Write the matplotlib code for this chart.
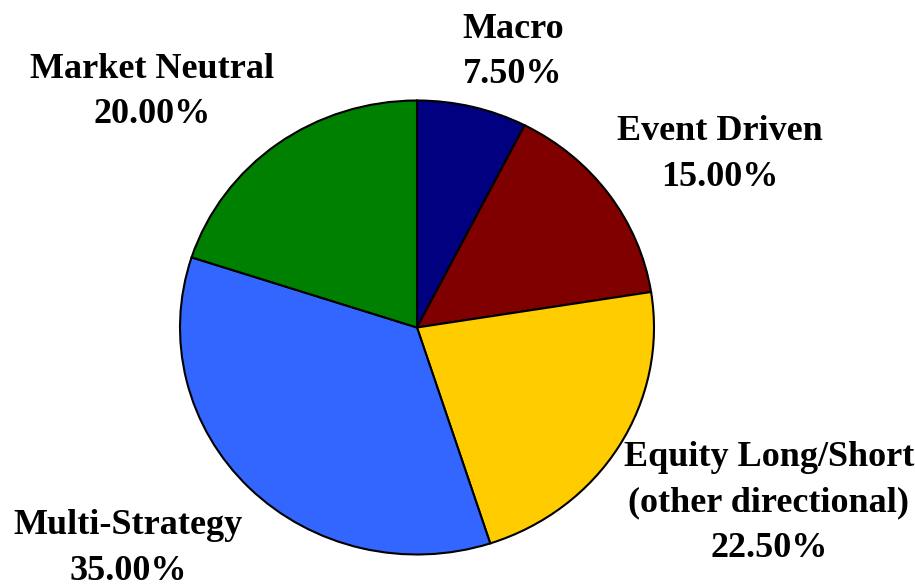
import matplotlib
matplotlib.use("Agg")
import matplotlib.pyplot as plt

categories = ["Macro", "Event Driven", "Equity Long/Short\n(other directional)", "Multi-Strategy", "Market Neutral"]
values = [7.50, 15.00, 22.50, 35.00, 20.00]
colors = ["#000080", "#800000", "#FFCC00", "#3366FF", "#008000"]

W, H = 915, 587
cx, cy, rx, ry = 417, 327.5, 237, 227

fig = plt.figure(figsize=(W / 100, H / 100), dpi=100)
ax = fig.add_axes([0, 0, 1, 1])
ax.pie(values, colors=colors, startangle=90, counterclock=False,
       wedgeprops=dict(edgecolor="black", linewidth=1.5))
ax.set_aspect("auto")
ax.set_xlim(-cx / rx, (W - cx) / rx)
ax.set_ylim(-(H - cy) / ry, cy / ry)
ax.axis("off")

def to_data(px, py):
    return (px - cx) / rx, (cy - py) / ry

# (center x, baseline y of last line) in pixels
label_px = [(513, 83), (720, 186), (769, 557), (128, 580), (152, 123)]
for cat, v, (px, py) in zip(categories, values, label_px):
    x, y = to_data(px, py)
    ax.text(x, y, f"{cat}\n{v:.2f}%", ha="center", va="baseline",
            multialignment="center",
            fontsize=26, fontweight="bold", family="Liberation Serif",
            linespacing=1.5)

fig.savefig("out.png", dpi=100)
